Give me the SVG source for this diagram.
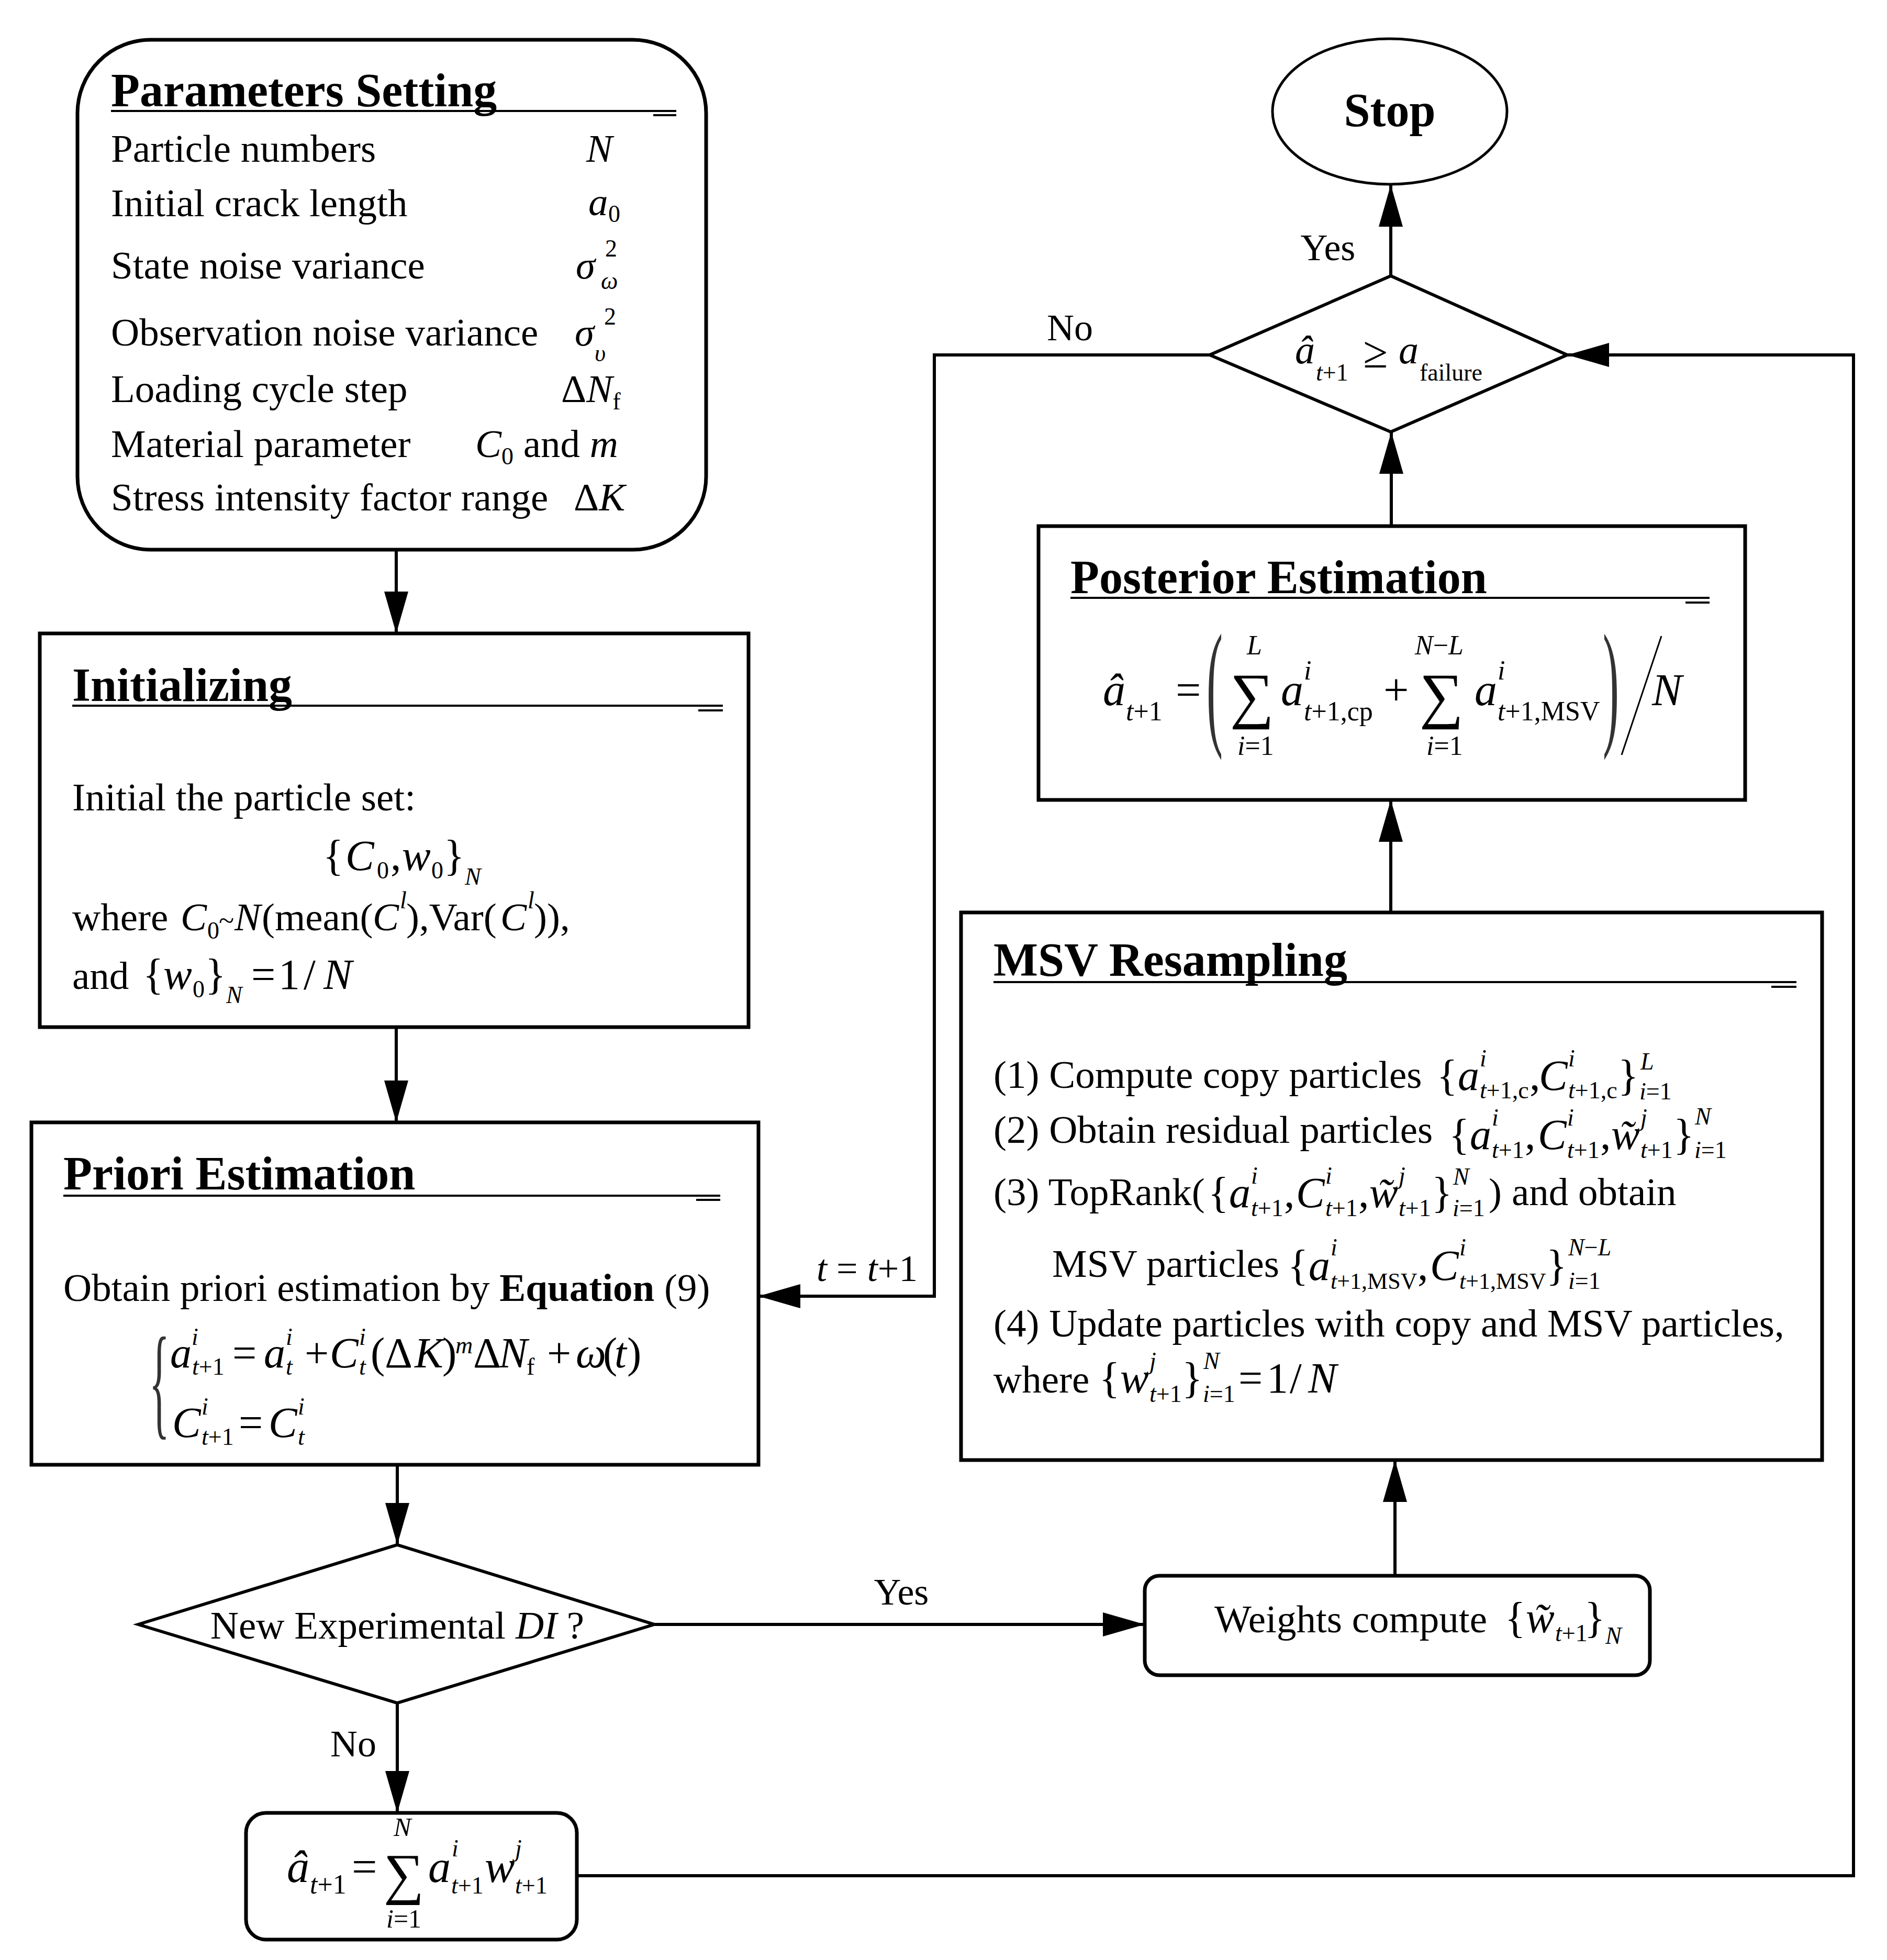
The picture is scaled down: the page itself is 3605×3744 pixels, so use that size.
<svg xmlns="http://www.w3.org/2000/svg" width="3605" height="3744" viewBox="0 0 3605 3744">
<defs>
<style>
text{font-family:"Liberation Serif","Times New Roman",serif;fill:#000}
.tx{font-size:75px}
.hd{font-size:90px;font-weight:bold}
.m{font-size:82px}
.pm{font-size:86px}
.s{font-size:46px}
.ps{font-size:52px}
.i{font-style:italic}
.box{fill:#fff;stroke:#000;stroke-width:7}
.ul{stroke:#000;stroke-width:4}
.cn{fill:none;stroke:#000;stroke-width:6}
.lab{font-size:72px}
.dl{fill:#333}
</style>
<marker id="ah" markerUnits="userSpaceOnUse" markerWidth="80" markerHeight="46" refX="80" refY="23" orient="auto" viewBox="0 0 80 46">
<path d="M0,0 L80,23 L0,46 Z" fill="#000"/>
</marker>
</defs>
<rect width="3605" height="3744" fill="#fff"/>

<g id="connectors" class="cn">
<path d="M757,1050 V1210" marker-end="url(#ah)"/>
<path d="M757,1962 V2144" marker-end="url(#ah)"/>
<path d="M759,2798 V2951" marker-end="url(#ah)"/>
<path d="M759,3253 V3463" marker-end="url(#ah)"/>
<path d="M1250,3103 H2187" marker-end="url(#ah)"/>
<path d="M2665,3010 V2789" marker-end="url(#ah)"/>
<path d="M2657,1743 V1528" marker-end="url(#ah)"/>
<path d="M2658,1005 V825" marker-end="url(#ah)"/>
<path d="M2657,527 V353" marker-end="url(#ah)"/>
<path d="M2311,678 H1785 V2476 H1449" marker-end="url(#ah)"/>
<path d="M1102,3583 H3541 V678 H2994" marker-end="url(#ah)"/>
</g>

<g id="labels">
<text class="lab" x="2537" y="497" text-anchor="middle">Yes</text>
<text class="lab" x="2044" y="650" text-anchor="middle">No</text>
<text class="lab" x="1560" y="2447"><tspan class="i">t</tspan> = <tspan class="i">t</tspan>+1</text>
<text class="lab" x="1722" y="3065" text-anchor="middle">Yes</text>
<text class="lab" x="675" y="3355" text-anchor="middle">No</text>
</g>

<g id="params">
<rect class="box" x="148" y="76" width="1201" height="974" rx="140" ry="140" stroke-width="6"/>
<text class="hd" x="212" y="203">Parameters Setting</text>
<line class="ul" x1="212" y1="212" x2="1292" y2="212"/>
<line class="ul" x1="1248" y1="220" x2="1292" y2="220"/>
<text class="tx" x="212" y="309">Particle numbers</text>
<text class="tx" x="212" y="413">Initial crack length</text>
<text class="tx" x="212" y="532">State noise variance</text>
<text class="tx" x="212" y="660">Observation noise variance</text>
<text class="tx" x="212" y="768">Loading cycle step</text>
<text class="tx" x="212" y="873">Material parameter</text>
<text class="tx" x="212" y="975">Stress intensity factor range</text>
<text class="tx i" x="1120" y="309">N</text>
<text class="tx"><tspan class="i" x="1124" y="411">a</tspan><tspan class="s" x="1162" y="424">0</tspan></text>
<text class="tx"><tspan class="i" x="1100" y="532">σ</tspan><tspan class="s" x="1156" y="490">2</tspan><tspan class="s i" x="1148" y="552">ω</tspan></text>
<text class="tx"><tspan class="i" x="1098" y="660">σ</tspan><tspan class="s" x="1154" y="620">2</tspan><tspan class="s i" x="1136" y="690">υ</tspan></text>
<text class="tx" x="1072" y="768">Δ<tspan class="i">N</tspan><tspan class="s" dy="14">f</tspan></text>
<text class="tx" x="908" y="873"><tspan class="i">C</tspan><tspan class="s" dy="14">0</tspan><tspan dy="-14"> and </tspan><tspan class="i">m</tspan></text>
<text class="tx" x="1096" y="975">Δ<tspan class="i">K</tspan></text>
</g>

<g id="init">
<rect class="box" x="76" y="1210" width="1354" height="752"/>
<text class="hd" x="138" y="1339">Initializing</text>
<line class="ul" x1="138" y1="1348" x2="1381" y2="1348"/>
<line class="ul" x1="1334" y1="1357" x2="1381" y2="1357"/>
<text class="tx" x="138" y="1548">Initial the particle set:</text>
<text class="m"><tspan x="617" y="1662">{</tspan><tspan class="i" x="660">C</tspan><tspan class="s" x="720" y="1678">0</tspan><tspan x="746" y="1662">,</tspan><tspan class="i" x="768">w</tspan><tspan class="s" x="824" y="1678">0</tspan><tspan x="848" y="1662">}</tspan><tspan class="s i" x="888" y="1690">N</tspan></text>
<text class="tx"><tspan x="138" y="1777">where </tspan><tspan class="i" x="345">C</tspan><tspan class="s" x="396" y="1793">0</tspan><tspan font-size="54" x="418" y="1777">~</tspan><tspan class="i" x="448">N</tspan><tspan x="500">(mean(</tspan><tspan class="i" x="712">C</tspan><tspan class="s i" x="764" y="1735">l</tspan><tspan x="776" y="1777">),Var(</tspan><tspan class="i" x="956">C</tspan><tspan class="s i" x="1008" y="1735">l</tspan><tspan x="1020" y="1777">)),</tspan></text>
<text class="tx"><tspan x="138" y="1889">and</tspan><tspan class="m" x="273">{</tspan><tspan class="m i" x="312">w</tspan><tspan class="s" x="368" y="1905">0</tspan><tspan class="m" x="392" y="1889">}</tspan><tspan class="s i" x="432" y="1916">N</tspan><tspan class="m" x="480" y="1889">=</tspan><tspan class="m" x="532">1</tspan><tspan class="m" x="580">/</tspan><tspan class="m i" x="618">N</tspan></text>
</g>

<g id="priori">
<rect class="box" x="60" y="2144" width="1389" height="654"/>
<text class="hd" x="121" y="2272">Priori Estimation</text>
<line class="ul" x1="121" y1="2284" x2="1376" y2="2284"/>
<line class="ul" x1="1330" y1="2292" x2="1376" y2="2292"/>
<text class="tx" x="121" y="2485">Obtain priori estimation by <tspan font-weight="bold">Equation</tspan> (9)</text>
<text class="dl" font-size="238" transform="translate(285,2718) scale(0.34,1)">{</text>
<text class="m"><tspan class="i" x="325" y="2612">a</tspan><tspan class="s i" x="366" y="2569">i</tspan><tspan class="s" font-size="42" x="367" y="2626"><tspan class="i">t</tspan>+1</tspan><tspan x="444" y="2612">=</tspan><tspan class="i" x="504">a</tspan><tspan class="s i" x="546" y="2569">i</tspan><tspan class="s i" x="546" y="2626">t</tspan><tspan x="582" y="2612">+</tspan><tspan class="i" x="630">C</tspan><tspan class="s i" x="686" y="2569">i</tspan><tspan class="s i" x="686" y="2626">t</tspan><tspan x="708" y="2612">(Δ</tspan><tspan class="i" x="792">K</tspan><tspan x="845">)</tspan><tspan class="s i" x="870" y="2585">m</tspan><tspan x="904" y="2612">Δ</tspan><tspan class="i" x="953">N</tspan><tspan class="s" x="1006" y="2626">f</tspan><tspan x="1045" y="2612">+</tspan><tspan class="i" x="1100">ω</tspan><tspan x="1152">(</tspan><tspan class="i" x="1174">t</tspan><tspan x="1198">)</tspan></text>
<text class="m"><tspan class="i" x="329" y="2745">C</tspan><tspan class="s i" x="385" y="2702">i</tspan><tspan class="s" font-size="42" x="385" y="2760"><tspan class="i">t</tspan>+1</tspan><tspan x="456" y="2745">=</tspan><tspan class="i" x="513">C</tspan><tspan class="s i" x="569" y="2702">i</tspan><tspan class="s i" x="569" y="2760">t</tspan></text>
</g>

<g id="decision-new">
<polygon points="759,2951 1250,3103 759,3253 264,3103" fill="#fff" stroke="#000" stroke-width="6"/>
<text class="tx" x="759" y="3130" text-anchor="middle">New Experimental <tspan class="i">DI</tspan> ?</text>
</g>

<g id="estimate">
<rect x="470" y="3463" width="632" height="242" rx="38" ry="38" fill="#fff" stroke="#000" stroke-width="7"/>
<text class="pm"><tspan class="i" x="548" y="3595">â</tspan><tspan class="ps" x="592" y="3617"><tspan class="i">t</tspan>+1</tspan><tspan x="672" y="3595">=</tspan></text>
<text font-size="108" x="733" y="3616">∑</text>
<text font-size="50"><tspan class="i" x="752" y="3507">N</tspan><tspan x="738" y="3682"><tspan class="i">i</tspan>=1</tspan></text>
<text class="pm"><tspan class="i" x="818" y="3595">a</tspan><tspan class="s i" x="863" y="3546">i</tspan><tspan class="s" x="862" y="3617"><tspan class="i">t</tspan>+1</tspan><tspan class="i" x="926" y="3595">w</tspan><tspan class="s i" x="984" y="3546">j</tspan><tspan class="s" x="984" y="3617"><tspan class="i">t</tspan>+1</tspan></text>
</g>

<g id="weights">
<rect x="2187" y="3010" width="965" height="190" rx="28" ry="28" fill="#fff" stroke="#000" stroke-width="7"/>
<text class="tx" x="2320" y="3118">Weights compute</text>
<text class="m"><tspan x="2875" y="3118">{</tspan><tspan class="i" x="2915">w̃</tspan><tspan class="s" font-size="42" x="2971" y="3135"><tspan class="i">t</tspan>+1</tspan><tspan x="3027" y="3118">}</tspan><tspan class="s i" x="3067" y="3140">N</tspan></text>
</g>

<g id="msv">
<rect class="box" x="1836" y="1743" width="1645" height="1046" stroke-width="6"/>
<text class="hd" x="1898" y="1864">MSV Resampling</text>
<line class="ul" x1="1898" y1="1876" x2="3432" y2="1876"/>
<line class="ul" x1="3384" y1="1885" x2="3432" y2="1885"/>
<text class="tx" x="1898" y="2078">(1) Compute copy particles</text>
<text class="m"><tspan x="2745" y="2082">{</tspan><tspan class="i" x="2785">a</tspan><tspan class="s i" x="2827" y="2037">i</tspan><tspan class="s" x="2827" y="2098"><tspan class="i">t</tspan>+1,c</tspan><tspan x="2922" y="2082">,</tspan><tspan class="i" x="2940">C</tspan><tspan class="s i" x="2996" y="2037">i</tspan><tspan class="s" x="2996" y="2098"><tspan class="i">t</tspan>+1,c</tspan><tspan x="3091" y="2082">}</tspan><tspan class="s i" x="3134" y="2043">L</tspan><tspan class="s" x="3132" y="2100"><tspan class="i">i</tspan>=1</tspan></text>
<text class="tx" x="1898" y="2183">(2) Obtain residual particles</text>
<text class="m"><tspan x="2768" y="2195">{</tspan><tspan class="i" x="2808">a</tspan><tspan class="s i" x="2850" y="2150">i</tspan><tspan class="s" x="2850" y="2212"><tspan class="i">t</tspan>+1</tspan><tspan x="2913" y="2195">,</tspan><tspan class="i" x="2938">C</tspan><tspan class="s i" x="2994" y="2150">i</tspan><tspan class="s" x="2994" y="2212"><tspan class="i">t</tspan>+1</tspan><tspan x="3057" y="2195">,</tspan><tspan class="i" x="3078">w̃</tspan><tspan class="s i" x="3134" y="2150">j</tspan><tspan class="s" x="3134" y="2212"><tspan class="i">t</tspan>+1</tspan><tspan x="3197" y="2195">}</tspan><tspan class="s i" x="3238" y="2148">N</tspan><tspan class="s" x="3237" y="2212"><tspan class="i">i</tspan>=1</tspan></text>
<text class="tx" x="1898" y="2302">(3) TopRank(</text>
<text class="m"><tspan x="2308" y="2306">{</tspan><tspan class="i" x="2348">a</tspan><tspan class="s i" x="2390" y="2261">i</tspan><tspan class="s" x="2390" y="2323"><tspan class="i">t</tspan>+1</tspan><tspan x="2453" y="2306">,</tspan><tspan class="i" x="2476">C</tspan><tspan class="s i" x="2532" y="2261">i</tspan><tspan class="s" x="2532" y="2323"><tspan class="i">t</tspan>+1</tspan><tspan x="2595" y="2306">,</tspan><tspan class="i" x="2616">w̃</tspan><tspan class="s i" x="2672" y="2261">j</tspan><tspan class="s" x="2672" y="2323"><tspan class="i">t</tspan>+1</tspan><tspan x="2735" y="2306">}</tspan><tspan class="s i" x="2776" y="2263">N</tspan><tspan class="s" x="2775" y="2323"><tspan class="i">i</tspan>=1</tspan></text>
<text class="tx"><tspan x="2844" y="2302">)</tspan><tspan x="2888">and obtain</tspan></text>
<text class="tx" x="2010" y="2439">MSV particles</text>
<text class="m"><tspan x="2460" y="2445">{</tspan><tspan class="i" x="2500">a</tspan><tspan class="s i" x="2542" y="2398">i</tspan><tspan x="2542" y="2462" font-size="44"><tspan class="i">t</tspan>+1,MSV</tspan><tspan x="2708" y="2445">,</tspan><tspan class="i" x="2732">C</tspan><tspan class="s i" x="2788" y="2398">i</tspan><tspan x="2788" y="2462" font-size="44"><tspan class="i">t</tspan>+1,MSV</tspan><tspan x="2954" y="2445">}</tspan><tspan class="s" x="2996" y="2398"><tspan class="i">N</tspan>−<tspan class="i">L</tspan></tspan><tspan class="s" x="2996" y="2462"><tspan class="i">i</tspan>=1</tspan></text>
<text class="tx" x="1898" y="2553">(4) Update particles with copy and MSV particles,</text>
<text class="tx"><tspan x="1898" y="2660">where</tspan><tspan class="m" x="2100">{</tspan><tspan class="m i" x="2140">w</tspan><tspan class="s i" x="2196" y="2615">j</tspan><tspan class="s" x="2196" y="2678"><tspan class="i">t</tspan>+1</tspan><tspan class="m" x="2258" y="2660">}</tspan><tspan class="s i" x="2299" y="2615">N</tspan><tspan class="s" x="2298" y="2678"><tspan class="i">i</tspan>=1</tspan><tspan class="m" x="2366" y="2660">=</tspan><tspan class="m" x="2420">1</tspan><tspan class="m" x="2464">/</tspan><tspan class="m i" x="2499">N</tspan></text>
</g>

<g id="posterior">
<rect class="box" x="1984" y="1005" width="1350" height="523"/>
<text class="hd" x="2045" y="1133">Posterior Estimation</text>
<line class="ul" x1="2045" y1="1142" x2="3266" y2="1142"/>
<line class="ul" x1="3220" y1="1151" x2="3266" y2="1151"/>
<text class="pm"><tspan class="i" x="2107" y="1347">â</tspan><tspan class="ps" x="2151" y="1376"><tspan class="i">t</tspan>+1</tspan><tspan x="2246" y="1347">=</tspan></text>
<text class="dl" font-size="266" transform="translate(2305,1395) scale(0.35,1)">(</text>
<text font-size="118" x="2350" y="1368">∑</text>
<text class="ps"><tspan class="i" x="2382" y="1250">L</tspan><tspan x="2364" y="1442"><tspan class="i">i</tspan>=1</tspan></text>
<text class="pm"><tspan class="i" x="2447" y="1347">a</tspan><tspan class="ps i" x="2491" y="1298">i</tspan><tspan class="ps" x="2491" y="1376"><tspan class="i">t</tspan>+1,cp</tspan><tspan x="2643" y="1347">+</tspan></text>
<text font-size="118" x="2712" y="1368">∑</text>
<text class="ps"><tspan x="2703" y="1250"><tspan class="i">N</tspan>−<tspan class="i">L</tspan></tspan><tspan x="2725" y="1442"><tspan class="i">i</tspan>=1</tspan></text>
<text class="pm"><tspan class="i" x="2817" y="1347">a</tspan><tspan class="ps i" x="2861" y="1298">i</tspan><tspan class="ps" x="2861" y="1376"><tspan class="i">t</tspan>+1,MSV</tspan></text>
<text class="dl" font-size="266" transform="translate(3062,1395) scale(0.35,1)">)</text>
<line x1="3098" y1="1442" x2="3174" y2="1215" stroke="#000" stroke-width="3"/>
<text class="pm i" x="3156" y="1347">N</text>
</g>

<g id="decision-fail">
<polygon points="2657,527 2994,678 2657,825 2311,678" fill="#fff" stroke="#000" stroke-width="6"/>
<text font-size="76"><tspan class="i" x="2474" y="694">â</tspan><tspan font-size="46" x="2514" y="727"><tspan class="i">t</tspan>+1</tspan><tspan font-size="86" x="2604" y="702">≥</tspan><tspan class="i" x="2672" y="694">a</tspan><tspan font-size="46" x="2712" y="727">failure</tspan></text>
</g>

<g id="stop">
<ellipse cx="2655" cy="213" rx="224" ry="139" fill="#fff" stroke="#000" stroke-width="5"/>
<text class="hd" x="2655" y="241" text-anchor="middle">Stop</text>
</g>
</svg>
